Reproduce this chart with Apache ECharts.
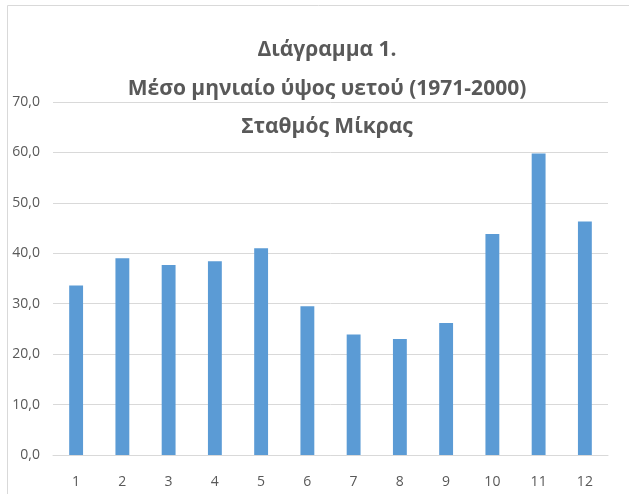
<!DOCTYPE html>
<html>
<head>
<meta charset="utf-8">
<script src="https://cdn.jsdelivr.net/npm/echarts@6/dist/echarts.min.js"></script>
<style>
  html, body { margin: 0; padding: 0; background: #fff; }
  #main { width: 629px; height: 494px; }
</style>
</head>
<body>
<div id="main"></div>
<script>
var months = ['1', '2', '3', '4', '5', '6', '7', '8', '9', '10', '11', '12'];
var rainfall = [33.6, 39.0, 37.7, 38.4, 41.0, 29.5, 23.9, 23.0, 26.2, 43.8, 59.8, 46.3];
var titleLines = ['Διάγραμμα 1.', 'Μέσο μηνιαίο ύψος υετού (1971-2000)', 'Σταθμός Μίκρας'];

var font = '"Open Sans", sans-serif';

var myChart = echarts.init(document.getElementById('main'));

var option = {
    animation: false,
    title: {
        text: titleLines.join('\n'),
        left: 322,
        top: 26,
        textAlign: 'center',
        textStyle: {
            fontFamily: font,
            fontSize: 21,
            fontWeight: 'bold',
            color: '#595959',
            lineHeight: 38.5
        }
    },
    graphic: [{
        type: 'rect',
        silent: true,
        shape: { x: 7.5, y: 5.5, width: 700, height: 600 },
        style: { fill: 'none', stroke: '#d9d9d9', lineWidth: 1 }
    }],
    grid: {
        left: 53,
        right: 21,
        top: 102,
        bottom: 39
    },
    xAxis: {
        type: 'category',
        data: months,
        axisLine: { lineStyle: { color: '#d9d9d9' } },
        axisTick: { show: false },
        axisLabel: {
            color: '#595959',
            fontFamily: font,
            fontSize: 14,
            margin: 20
        }
    },
    yAxis: {
        type: 'value',
        min: 0,
        max: 70,
        interval: 10,
        axisLine: { show: false },
        axisTick: { show: false },
        splitLine: { lineStyle: { color: '#d9d9d9' } },
        axisLabel: {
            color: '#595959',
            fontFamily: font,
            fontSize: 14,
            margin: 13,
            formatter: function (v) { return v.toFixed(1).replace('.', ','); }
        }
    },
    series: [{
        type: 'bar',
        data: rainfall,
        barWidth: '30%',
        itemStyle: { color: '#5b9bd5' }
    }]
};

myChart.setOption(option);
</script>
</body>
</html>
